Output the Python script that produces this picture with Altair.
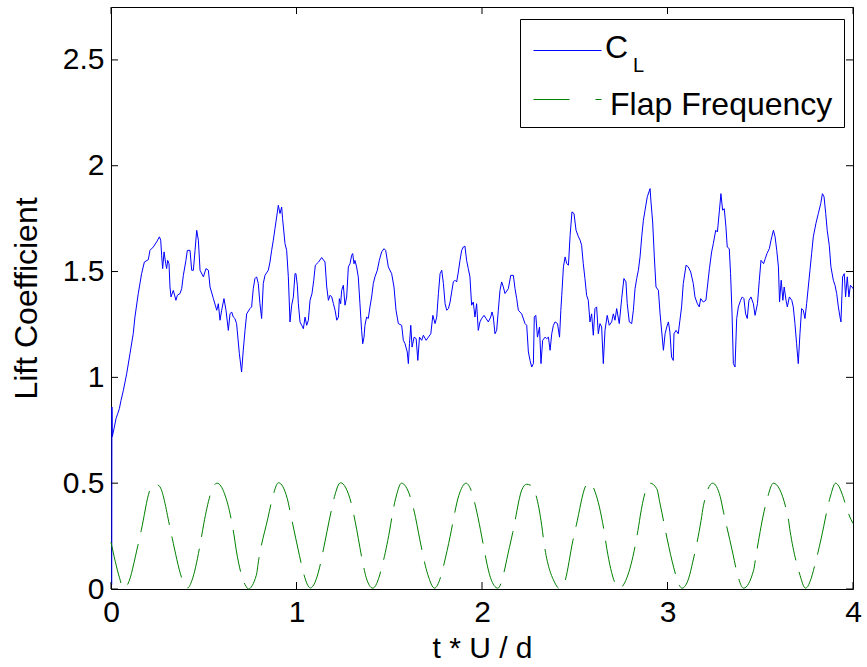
import altair as alt
import pandas as pd

# ---------------- data ----------------
cl_t = [0.004, 0.005, 0.007, 0.018, 0.027, 0.036, 0.045, 0.054, 0.0665, 0.0845, 0.1024, 0.120, 0.129,
        0.147, 0.165, 0.180, 0.201, 0.210, 0.228, 0.246, 0.261, 0.268, 0.273, 0.2785, 0.286, 0.295, 0.300,
        0.3055, 0.3127, 0.318, 0.3235, 0.336, 0.350, 0.3576, 0.372, 0.381, 0.390, 0.404, 0.4115, 0.426,
        0.435, 0.444, 0.453, 0.462, 0.471, 0.480, 0.498, 0.512, 0.525, 0.534, 0.552, 0.570, 0.5786, 0.5876,
        0.5966, 0.609, 0.620, 0.6325, 0.6415, 0.6505, 0.6595, 0.668, 0.677, 0.692, 0.704, 0.713, 0.7224,
        0.7314, 0.749, 0.758, 0.767, 0.776, 0.785, 0.794, 0.803, 0.812, 0.821, 0.830, 0.848, 0.857, 0.866,
        0.875, 0.884, 0.893, 0.902, 0.911, 0.920, 0.925, 0.938, 0.947, 0.956, 0.965, 0.974, 0.983, 0.992,
        0.997, 1.0045, 1.010, 1.019, 1.028, 1.037, 1.046, 1.055, 1.064, 1.073, 1.0835, 1.093, 1.1015, 1.119,
        1.1357, 1.1537, 1.163, 1.172, 1.181, 1.190, 1.199, 1.208, 1.217, 1.226, 1.231, 1.238, 1.2435, 1.2525,
        1.2615, 1.2705, 1.2795, 1.2885, 1.2974, 1.303, 1.310, 1.315, 1.324, 1.333, 1.342, 1.351, 1.357,
        1.364, 1.369, 1.378, 1.387, 1.396, 1.405, 1.414, 1.423, 1.4357, 1.4465, 1.459, 1.472, 1.4807, 1.495,
        1.513, 1.5256, 1.5365, 1.549, 1.567, 1.576, 1.585, 1.597, 1.603, 1.609, 1.616, 1.623, 1.634, 1.645,
        1.654, 1.663, 1.675, 1.684, 1.699, 1.711, 1.724, 1.735, 1.747, 1.756, 1.765, 1.774, 1.783, 1.792,
        1.801, 1.810, 1.819, 1.828, 1.8365, 1.8455, 1.8544, 1.8634, 1.8724, 1.8814, 1.8904, 1.8994, 1.908,
        1.917, 1.926, 1.935, 1.944, 1.953, 1.962, 1.971, 1.980, 1.989,
        1.998, 2.011, 2.022, 2.034, 2.047, 2.054, 2.061, 2.070, 2.079, 2.088, 2.097, 2.106, 2.115, 2.124,
        2.142, 2.155, 2.169, 2.178, 2.187, 2.196, 2.214, 2.232, 2.241, 2.250, 2.259, 2.268, 2.277, 2.282,
        2.290, 2.299, 2.310, 2.318, 2.327, 2.340, 2.349, 2.358, 2.367, 2.376, 2.385, 2.394, 2.407, 2.418,
        2.425, 2.430, 2.439, 2.448, 2.457, 2.466, 2.475, 2.485, 2.496, 2.507, 2.520, 2.529, 2.537, 2.546,
        2.555, 2.564, 2.573, 2.582, 2.591, 2.600, 2.609, 2.618, 2.627, 2.636, 2.645, 2.654, 2.663, 2.675,
        2.686, 2.699, 2.708, 2.717, 2.726, 2.740, 2.753, 2.765, 2.776, 2.783, 2.794, 2.807, 2.816, 2.825,
        2.834, 2.843, 2.852, 2.861, 2.870, 2.879, 2.891, 2.906, 2.911, 2.920, 2.929, 2.938, 2.951, 2.960,
        2.969, 2.978, 2.987, 2.996, 3.005,
        3.013, 3.022, 3.031, 3.035, 3.046, 3.058, 3.067, 3.076, 3.085, 3.100, 3.112, 3.125, 3.139, 3.148,
        3.161, 3.171, 3.179, 3.193, 3.207, 3.215, 3.226, 3.238, 3.247, 3.260, 3.269, 3.280, 3.288, 3.297,
        3.306, 3.315, 3.322, 3.333, 3.340, 3.348, 3.355, 3.364, 3.373, 3.382, 3.394, 3.403, 3.412, 3.421,
        3.430, 3.439, 3.450, 3.463, 3.472, 3.485, 3.495, 3.504, 3.518, 3.527, 3.536, 3.549, 3.558, 3.571,
        3.580, 3.589, 3.598, 3.604, 3.613, 3.622, 3.629, 3.639, 3.646, 3.657, 3.670, 3.678, 3.687, 3.696,
        3.705, 3.714, 3.723, 3.732, 3.741, 3.750, 3.759, 3.768, 3.777, 3.786, 3.800, 3.813, 3.826, 3.835,
        3.844, 3.853, 3.861, 3.872, 3.881, 3.894, 3.903, 3.912, 3.921, 3.930, 3.935, 3.944, 3.953, 3.960,
        3.969, 3.978, 3.986, 3.995, 4.000]
cl_v = [0.02, 0.86, 0.72, 0.765, 0.805, 0.828, 0.852, 0.891, 0.938, 1.017, 1.112, 1.207, 1.285,
        1.396, 1.49, 1.545, 1.556, 1.60, 1.616, 1.64, 1.664, 1.648, 1.577, 1.514, 1.593, 1.537, 1.514,
        1.553, 1.537, 1.427, 1.38, 1.411, 1.364, 1.388, 1.396, 1.419, 1.482, 1.553, 1.60, 1.60,
        1.506, 1.506, 1.60, 1.695, 1.648, 1.506, 1.475, 1.514, 1.506, 1.427, 1.372, 1.317, 1.348, 1.27,
        1.317, 1.372, 1.317, 1.222, 1.30, 1.309, 1.285, 1.278, 1.254, 1.112, 1.025, 1.128, 1.222,
        1.30, 1.325, 1.333, 1.419, 1.467, 1.475, 1.443, 1.348, 1.278, 1.443, 1.482, 1.506, 1.545, 1.60,
        1.648, 1.703, 1.758, 1.813, 1.774, 1.805, 1.75, 1.632, 1.60, 1.475, 1.262, 1.341, 1.38, 1.49,
        1.49, 1.435, 1.348, 1.262, 1.246, 1.23, 1.285, 1.246, 1.27, 1.364, 1.396, 1.459, 1.53, 1.545,
        1.566, 1.545, 1.427, 1.364, 1.388, 1.38, 1.348, 1.317, 1.27, 1.285, 1.372, 1.348, 1.411, 1.435,
        1.341, 1.38, 1.522, 1.537, 1.577, 1.585, 1.537, 1.553, 1.522, 1.475, 1.348, 1.222, 1.159,
        1.19, 1.246, 1.285, 1.278, 1.333, 1.38, 1.443, 1.475, 1.506, 1.553, 1.593, 1.608, 1.60, 1.522,
        1.49, 1.427, 1.317, 1.254, 1.246, 1.175, 1.159, 1.12, 1.065, 1.159, 1.246, 1.143, 1.19, 1.183,
        1.08, 1.19, 1.175, 1.199, 1.175, 1.19, 1.206, 1.293, 1.254, 1.285, 1.396, 1.49, 1.506, 1.443,
        1.348, 1.317, 1.325, 1.356, 1.403, 1.451, 1.459, 1.451, 1.498, 1.553, 1.60, 1.616, 1.62,
        1.553, 1.514, 1.475, 1.341, 1.356, 1.285, 1.348, 1.222, 1.262,
        1.278, 1.293, 1.278, 1.262, 1.285, 1.309, 1.285, 1.206, 1.222, 1.317, 1.411, 1.451, 1.427, 1.396,
        1.419, 1.482, 1.482, 1.419, 1.372, 1.317, 1.30, 1.254, 1.246, 1.12, 1.08, 1.049, 1.065, 1.285,
        1.293, 1.19, 1.238, 1.065, 1.175, 1.19, 1.183, 1.19, 1.128, 1.206, 1.246, 1.262, 1.254, 1.19,
        1.317, 1.388, 1.522, 1.569, 1.537, 1.53, 1.671, 1.782, 1.774, 1.695, 1.664, 1.648, 1.624, 1.537,
        1.467, 1.388, 1.364, 1.262, 1.30, 1.199, 1.325, 1.333, 1.206, 1.254, 1.238, 1.065, 1.222, 1.293,
        1.246, 1.262, 1.30, 1.27, 1.325, 1.254, 1.372, 1.467, 1.451, 1.348, 1.262, 1.254, 1.317, 1.419,
        1.467, 1.506, 1.569, 1.664, 1.742, 1.79, 1.853, 1.892, 1.829, 1.734, 1.569, 1.427, 1.411, 1.30,
        1.214, 1.128, 1.206, 1.238, 1.262,
        1.214, 1.096, 1.08, 1.206, 1.222, 1.206, 1.27, 1.333, 1.443, 1.53, 1.522, 1.498, 1.443, 1.38,
        1.348, 1.333, 1.372, 1.356, 1.364, 1.427, 1.514, 1.593, 1.632, 1.695, 1.687, 1.79, 1.868, 1.79,
        1.797, 1.711, 1.616, 1.608, 1.49, 1.30, 1.065, 1.049, 1.278, 1.333, 1.364, 1.38, 1.372, 1.30,
        1.278, 1.364, 1.38, 1.348, 1.293, 1.348, 1.459, 1.553, 1.537, 1.561, 1.585, 1.608, 1.648, 1.695,
        1.664, 1.60, 1.522, 1.356, 1.459, 1.364, 1.427, 1.364, 1.333, 1.38, 1.364, 1.333, 1.254, 1.159,
        1.065, 1.206, 1.325, 1.317, 1.278, 1.348, 1.427, 1.506, 1.585, 1.664, 1.727, 1.774, 1.821, 1.868,
        1.853, 1.774, 1.695, 1.624, 1.522, 1.459, 1.435, 1.396, 1.333, 1.285, 1.262, 1.475, 1.49, 1.38,
        1.475, 1.38, 1.435, 1.427, 1.419]

flap_t = [0.000, 0.046, 0.066, 0.087, 0.145, 0.163, 0.213, 0.240, 0.261, 0.321, 0.330, 0.393, 0.414,
          0.436, 0.486, 0.500, 0.563, 0.572, 0.612, 0.662, 0.675, 0.734, 0.740, 0.783, 0.797, 0.845,
          0.864, 0.903, 0.950, 0.968, 1.016, 1.034, 1.075, 1.124, 1.142, 1.187, 1.205, 1.237, 1.298,
          1.316, 1.358, 1.376, 1.411, 1.474, 1.492, 1.534, 1.566, 1.642, 1.658, 1.708, 1.744, 1.812,
          1.828, 1.875, 1.914, 1.985, 1.998, 2.046, 2.085, 2.148, 2.166, 2.215, 2.240, 2.265, 2.322,
          2.333, 2.391, 2.418, 2.445, 2.490, 2.508, 2.565, 2.585, 2.610, 2.660, 2.673, 2.741, 2.781,
          2.845, 2.853, 2.907, 2.942, 2.960, 3.007, 3.025, 3.079, 3.115, 3.136, 3.181, 3.194, 3.244,
          3.284, 3.302, 3.352, 3.370, 3.410, 3.464, 3.478, 3.535, 3.571, 3.649, 3.661, 3.711, 3.744,
          3.810, 3.828, 3.877, 3.906, 3.990, 4.000]
flap_v = [0.221, 0.053, 0.003, 0.017, 0.206, 0.277, 0.474, 0.495, 0.486, 0.277, 0.240, 0.027, 0.005,
          0.040, 0.237, 0.308, 0.497, 0.500, 0.450, 0.261, 0.185, 0.005, 0.000, 0.064, 0.143, 0.332,
          0.406, 0.502, 0.428, 0.355, 0.158, 0.088, 0.005, 0.100, 0.174, 0.368, 0.437, 0.502, 0.395,
          0.320, 0.122, 0.053, 0.004, 0.154, 0.229, 0.426, 0.500, 0.337, 0.264, 0.068, 0.004, 0.182,
          0.248, 0.442, 0.500, 0.310, 0.250, 0.053, 0.004, 0.197, 0.268, 0.469, 0.495, 0.489, 0.300,
          0.226, 0.032, 0.002, 0.032, 0.229, 0.300, 0.494, 0.500, 0.458, 0.264, 0.190, 0.004, 0.053,
          0.300, 0.345, 0.500, 0.474, 0.402, 0.200, 0.131, 0.004, 0.053, 0.127, 0.324, 0.395, 0.500,
          0.437, 0.363, 0.169, 0.095, 0.004, 0.088, 0.163, 0.418, 0.500, 0.343, 0.273, 0.075, 0.004,
          0.169, 0.237, 0.434, 0.500, 0.327, 0.310]

x_ticks = [0, 1, 2, 3, 4]
y_ticks = [0, 0.5, 1, 1.5, 2, 2.5]
x_title = "t * U / d"
y_title = "Lift Coefficient"
legend_cl_main = "C"
legend_cl_sub = "L"
legend_flap = "Flap Frequency"

# ---------------- layout ----------------
W, H = 742, 582
FONT = "Liberation Sans"
BLUE = "#0000FF"
GREEN = "#008000"
TICK = 7

cl_df = pd.DataFrame({"t": cl_t, "v": cl_v})
flap_df = pd.DataFrame({"t": flap_t, "v": flap_v})
xt_df = pd.DataFrame({"t": x_ticks})
yt_df = pd.DataFrame({"v": y_ticks})
one = pd.DataFrame({"k": [0]})

xs = alt.Scale(domain=[0, 4], nice=False, zero=False)
ys = alt.Scale(domain=[0, 2.75], nice=False, zero=False)

x_axis = alt.Axis(values=x_ticks, format="~g", title=x_title, ticks=False, domain=False, grid=False,
                  labelFontSize=30, labelPadding=8, labelFont=FONT, labelColor="black",
                  titleFontSize=30, titleFont=FONT, titleFontWeight="normal", titleColor="black",
                  titlePadding=6, labelFlush=False)
y_axis = alt.Axis(values=y_ticks, format="~g", title=y_title, ticks=False, domain=False, grid=False,
                  labelFontSize=30, labelPadding=7, labelFont=FONT, labelColor="black",
                  titleFontSize=32, titleFont=FONT, titleFontWeight="normal", titleColor="black",
                  titlePadding=19, labelFlush=False)

cl_line = alt.Chart(cl_df).mark_line(color=BLUE, strokeWidth=1).encode(
    x=alt.X("t:Q", scale=xs, axis=x_axis),
    y=alt.Y("v:Q", scale=ys, axis=y_axis),
)
flap_line = alt.Chart(flap_df).mark_line(color=GREEN, strokeWidth=1, strokeDash=[42, 12],
                                         interpolate="monotone").encode(
    x=alt.X("t:Q", scale=xs),
    y=alt.Y("v:Q", scale=ys),
)

tick_bottom = alt.Chart(xt_df).mark_rule(color="black", strokeWidth=1).encode(
    x=alt.X("t:Q", scale=xs), y=alt.value(H), y2=alt.value(H - TICK))
tick_top = alt.Chart(xt_df).mark_rule(color="black", strokeWidth=1).encode(
    x=alt.X("t:Q", scale=xs), y=alt.value(0), y2=alt.value(TICK))
tick_left = alt.Chart(yt_df).mark_rule(color="black", strokeWidth=1).encode(
    y=alt.Y("v:Q", scale=ys), x=alt.value(0), x2=alt.value(TICK))
tick_right = alt.Chart(yt_df).mark_rule(color="black", strokeWidth=1).encode(
    y=alt.Y("v:Q", scale=ys), x=alt.value(W), x2=alt.value(W - TICK))

# legend box (MATLAB style, top right)
LX0, LX1, LY0, LY1 = 409.5, 733.5, 12.5, 120.5
leg_box = alt.Chart(one).mark_rect(fill="white", stroke="black", strokeWidth=1).encode(
    x=alt.value(LX0), x2=alt.value(LX1), y=alt.value(LY0), y2=alt.value(LY1))
leg_blue = alt.Chart(one).mark_rule(color=BLUE, strokeWidth=1).encode(
    x=alt.value(422.5), x2=alt.value(490.5), y=alt.value(43.5))
leg_green = alt.Chart(one).mark_rule(color=GREEN, strokeWidth=1, strokeDash=[36, 26]).encode(
    x=alt.value(422.5), x2=alt.value(490.5), y=alt.value(92.5))
leg_c = alt.Chart(one).mark_text(align="left", baseline="alphabetic", fontSize=32, font=FONT,
                                 color="black").encode(
    x=alt.value(494), y=alt.value(51), text=alt.value(legend_cl_main))
leg_l = alt.Chart(one).mark_text(align="left", baseline="alphabetic", fontSize=20, font=FONT,
                                 color="black").encode(
    x=alt.value(522), y=alt.value(65), text=alt.value(legend_cl_sub))
leg_f = alt.Chart(one).mark_text(align="left", baseline="alphabetic", fontSize=32, font=FONT,
                                 color="black").encode(
    x=alt.value(499), y=alt.value(108), text=alt.value(legend_flap))

chart = alt.layer(
    cl_line, flap_line, tick_bottom, tick_top, tick_left, tick_right,
    leg_box, leg_blue, leg_green, leg_c, leg_l, leg_f,
).properties(
    width=W, height=H,
    autosize=alt.AutoSizeParams(type="none"),
    padding={"left": 111, "top": 7, "right": 867 - 111 - W, "bottom": 667 - 7 - H},
    background="white",
).configure_view(
    stroke="black", strokeWidth=1,
)

chart.save("out.html", embed_options={"renderer": "svg", "actions": False})
